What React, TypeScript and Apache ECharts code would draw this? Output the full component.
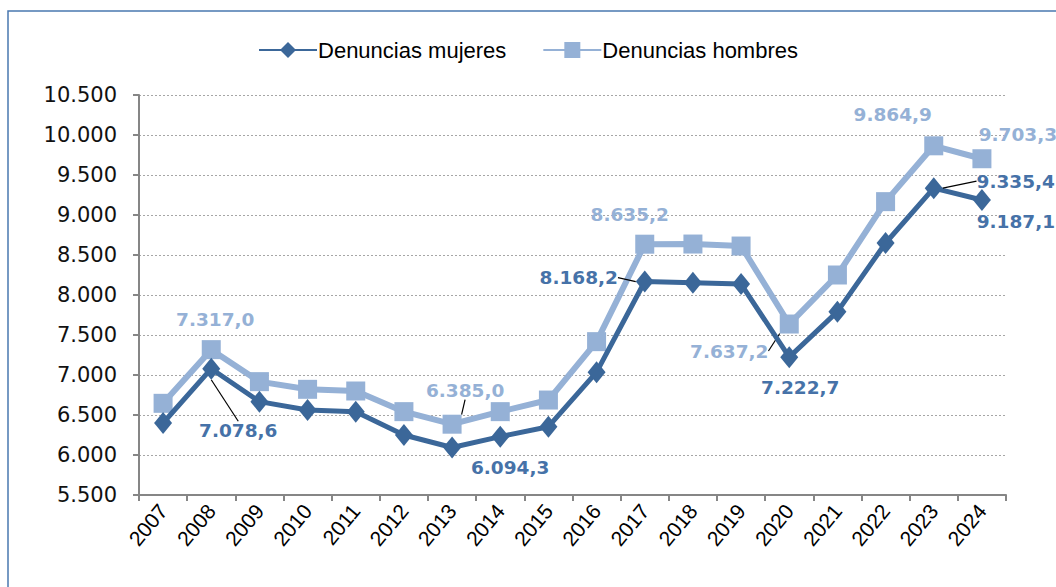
import React, { useEffect, useRef } from "react";
import * as echarts from "echarts";

const years = ["2007","2008","2009","2010","2011","2012","2013","2014","2015","2016","2017","2018","2019","2020","2021","2022","2023","2024"];
const mujeres = [6400, 7078.6, 6667, 6562, 6542, 6250, 6094.3, 6229, 6354, 7035, 8168.2, 8154, 8137, 7222.7, 7792, 8650, 9335.4, 9187.1];
const hombres = [6646, 7317.0, 6917, 6821, 6800, 6542, 6385.0, 6542, 6687, 7417, 8635.2, 8637, 8612, 7637.2, 8250, 9167, 9864.9, 9703.3];

// label placements (offset from point), keyed by data index
const mujLabels: Record<number, { dx: number; dy: number; line?: boolean }> = {
  1: { dx: 27, dy: 62, line: true },
  6: { dx: 58, dy: 20 },
  10: { dx: -66, dy: -4, line: true },
  13: { dx: 11, dy: 30 },
  16: { dx: 82, dy: -7, line: true },
  17: { dx: 34, dy: 21 },
};
const homLabels: Record<number, { dx: number; dy: number; line?: boolean }> = {
  1: { dx: 4, dy: -30 },
  6: { dx: 13, dy: -34, line: true },
  10: { dx: -15, dy: -30 },
  13: { dx: -60, dy: 27, line: true },
  16: { dx: -41, dy: -31 },
  17: { dx: 36, dy: -24 },
};

const DARK = "#3B6799";
const DARK_LABEL = "#4672A8";
const LIGHT = "#95B1D6";

const thousands = (s: string) => s.replace(/\B(?=(\d{3})+(?!\d))/g, ".");
const fmt = (v: number) => {
  const [i, d] = v.toFixed(1).split(".");
  return thousands(i) + "," + d;
};

function buildData(values: number[], labels: Record<number, any>, color: string) {
  return values.map((v, i) => {
    const l = labels[i];
    if (!l) return { value: v };
    return {
      value: v,
      label: {
        show: true,
        position: "inside",
        formatter: () => fmt(v),
        color,
        fontFamily: "DejaVu Sans",
        fontSize: 18.5,
        fontWeight: "bold",
      },
      labelLine: l.line
        ? { show: true, lineStyle: { color: "#000", width: 1.2 }, smooth: false }
        : { show: false },
    };
  });
}

function layoutFor(labels: Record<number, any>) {
  return (params: any) => {
    const l = labels[params.dataIndex];
    if (!l) return {};
    return { dx: l.dx, dy: l.dy };
  };
}

export default function App() {
  const ref = useRef<HTMLDivElement>(null);
  useEffect(() => {
    if (!ref.current) return;
    const chart = echarts.init(ref.current, null, { renderer: "svg" });
    chart.setOption({
      animation: false,
      backgroundColor: "#fff",
      graphic: [
        {
          type: "rect",
          shape: { x: 8, y: 11, width: 1200, height: 800 },
          style: { fill: "none", stroke: "#4A78B0", lineWidth: 1.5 },
          silent: true,
        },
      ],
      legend: {
        top: 34,
        left: "center",
        itemWidth: 58,
        itemHeight: 20,
        itemGap: 36,
        textStyle: { fontFamily: "Liberation Sans", fontSize: 22, color: "#000", padding: [0, 0, 0, -4] },
        data: ["Denuncias mujeres", "Denuncias hombres"],
      },
      grid: { left: 139, right: 50, top: 95, bottom: 92 },
      xAxis: {
        type: "category",
        data: years,
        boundaryGap: true,
        axisLine: { lineStyle: { color: "#868686", width: 2 } },
        axisTick: { show: true, length: 6, lineStyle: { color: "#868686", width: 2 } },
        axisLabel: {
          rotate: 50,
          margin: 12,
          color: "#000",
          fontFamily: "Liberation Sans",
          fontSize: 21,
          interval: 0,
        },
      },
      yAxis: {
        type: "value",
        min: 5500,
        max: 10500,
        interval: 500,
        axisLine: { show: true, lineStyle: { color: "#868686", width: 2 } },
        axisTick: { show: true, length: 6, lineStyle: { color: "#868686", width: 2 } },
        axisLabel: {
          margin: 22,
          color: "#111",
          fontFamily: "DejaVu Sans",
          fontSize: 21,
          formatter: (v: number) => thousands(String(v)),
        },
        splitLine: { lineStyle: { color: "#A6A6A6", type: [2, 2], width: 1 } },
      },
      series: [
        {
          name: "Denuncias mujeres",
          type: "line",
          data: buildData(mujeres, mujLabels, DARK_LABEL),
          symbol: "diamond",
          symbolSize: [18, 22],
          itemStyle: { color: DARK },
          lineStyle: { color: DARK, width: 5 },
          labelLayout: layoutFor(mujLabels),
          z: 3,
        },
        {
          name: "Denuncias hombres",
          type: "line",
          data: buildData(hombres, homLabels, LIGHT),
          symbol: "rect",
          symbolSize: 19,
          itemStyle: { color: LIGHT },
          lineStyle: { color: LIGHT, width: 6 },
          labelLayout: layoutFor(homLabels),
          z: 2,
        },
      ],
    });
    return () => chart.dispose();
  }, []);
  return (
    <div
      ref={ref}
      style={{ position: "absolute", left: 0, top: 0, width: 1056, height: 587 }}
    />
  );
}
